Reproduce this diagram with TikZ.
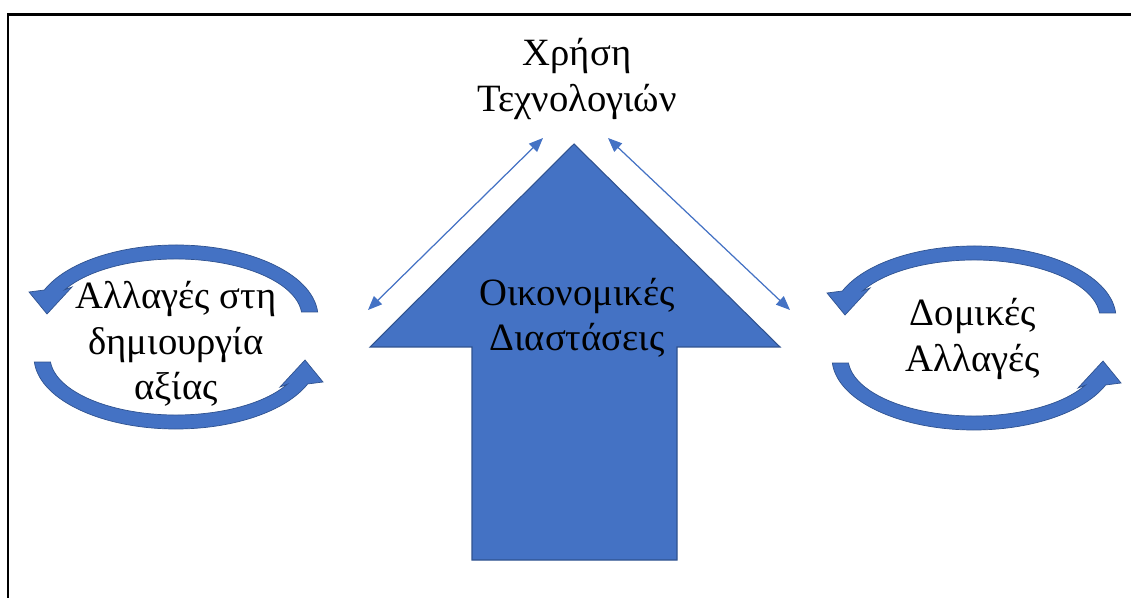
\documentclass[tikz,border=0pt]{standalone}
\usepackage{fontspec}
\setmainfont{Liberation Serif}
\usetikzlibrary{arrows.meta}
\definecolor{accblue}{HTML}{4472C4}
\definecolor{accedge}{HTML}{2F528F}

\begin{document}
\begin{tikzpicture}[
		x=0.02cm, y=0.02cm,
		greektext/.style={align=center, inner sep=0pt, font=\fontsize{22}{25.8}\selectfont},
		link/.style={{Triangle[length=8pt,width=6.5pt]}-{Triangle[length=8pt,width=6.5pt]}, accblue, line width=0.7pt},
		cyclefill/.style={fill=accblue, draw=accedge, line width=0.4pt},
		cyclehalf/.pic={
			\path[cyclefill, shift={(0,20)}] (4:142 and 72) arc[start angle=4, end angle=158, x radius=142, y radius=72]
				-- (-147,25) -- (-129,3) -- (-104,30)
				-- (152:126 and 58) arc[start angle=152, end angle=5, x radius=126, y radius=58] -- cycle;
		},
	]
	\useasboundingbox (0,0) rectangle (1131,598);
	\draw[line width=1.3pt] (1131,583.5) -- (8,583.5) -- (8,0);

	% big arrow
	\draw[fill=accblue, draw=accedge, line width=0.6pt] (574,454) -- (780,251) -- (677,251) -- (677,38)
		-- (472,38) -- (472,251) -- (370,251) -- cycle;

	\node (tech) [greektext] at (577,519) {Χρήση\\Τεχνολογιών};
	\node (econ) [greektext] at (577,280) {Οικονομικές\\Διαστάσεις};
	\node (valuechg) [greektext] at (176,254) {Αλλαγές στη\\δημιουργία\\αξίας};
	\node (structchg) [greektext] at (973,259) {Δομικές\\Αλλαγές};

	% cycles
	\coordinate (lcyc) at (176,261);
	\coordinate (rcyc) at (974,260);
	\pic at (lcyc) {cyclehalf};
	\pic[rotate=180] at (lcyc) {cyclehalf};
	\pic at (rcyc) {cyclehalf};
	\pic[rotate=180] at (rcyc) {cyclehalf};

	\coordinate (ltop) at (543,460);
	\coordinate (lbot) at (368,288);
	\coordinate (rtop) at (608,460);
	\coordinate (rbot) at (790,288);
	\draw[link] (lbot) -- (ltop);
	\draw[link] (rbot) -- (rtop);
\end{tikzpicture}
\end{document}
